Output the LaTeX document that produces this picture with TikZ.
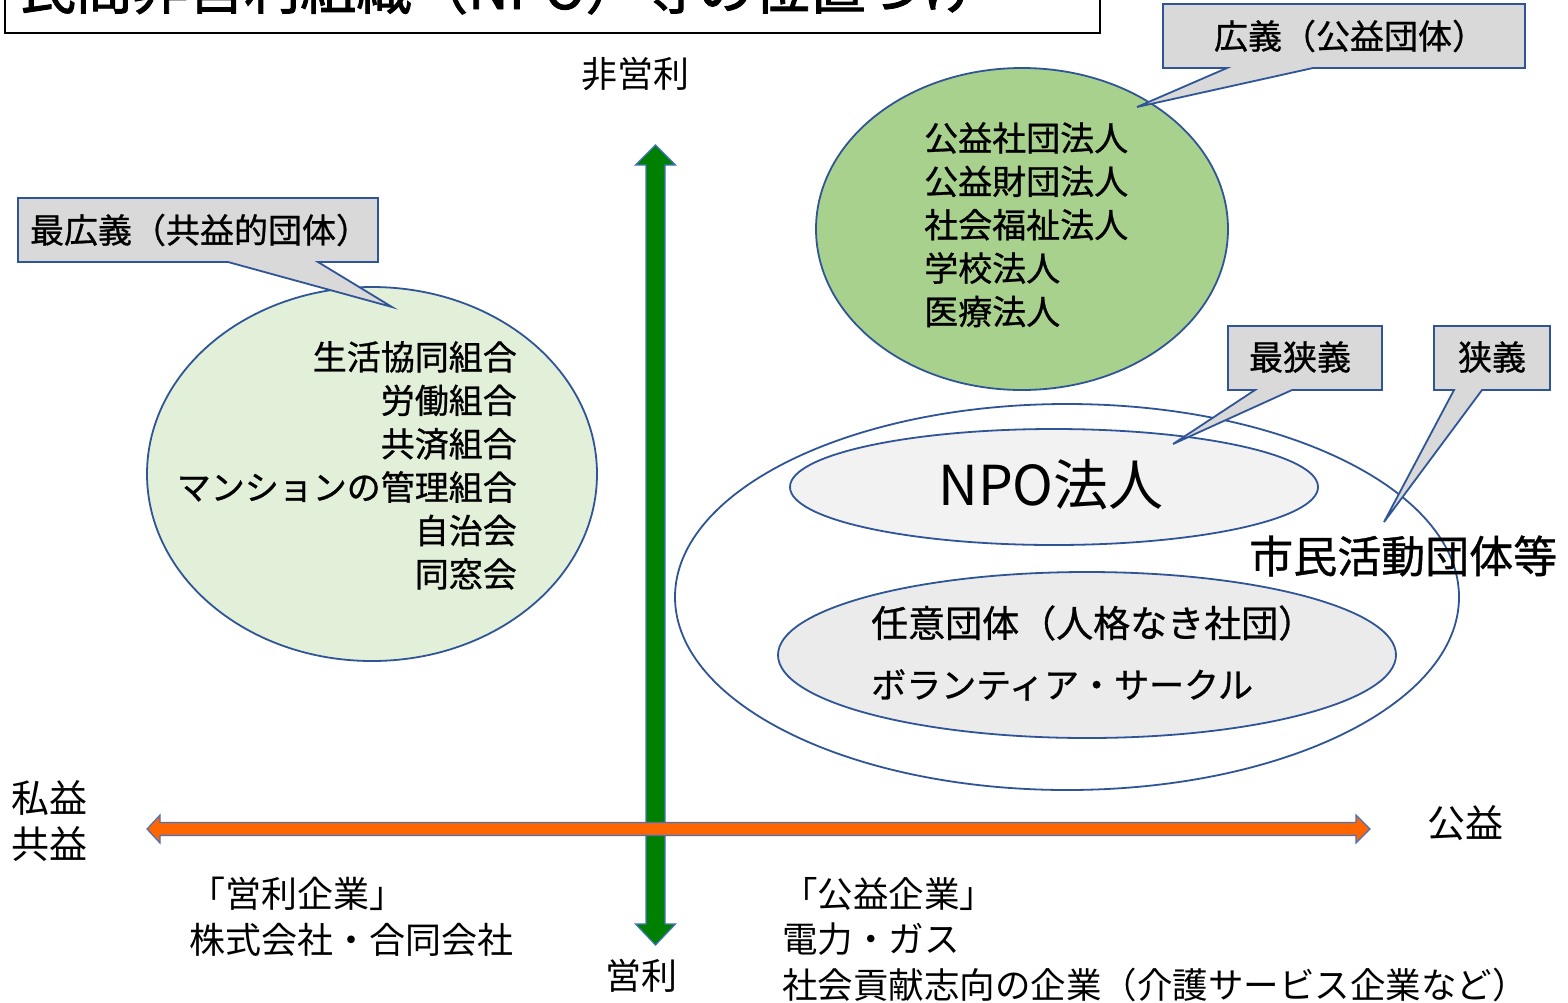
\documentclass[tikz,border=0pt]{standalone}
\usepackage{fontspec}
\setmainfont{Noto Sans CJK JP}
\newfontfamily\medjp{Noto Sans CJK JP}[FakeBold=0.8]
\newfontfamily\boldjp{Noto Sans CJK JP}[FakeBold=1.6]
\usetikzlibrary{shapes.geometric}
\definecolor{edgeblue}{HTML}{2F5597}
\definecolor{arrowline}{HTML}{4472C4}
\definecolor{lightgreen}{HTML}{E2F0D9}
\definecolor{midgreen}{HTML}{A9D18E}
\definecolor{npogray}{HTML}{F2F2F2}
\definecolor{ningray}{HTML}{EBEBEB}
\definecolor{callgray}{HTML}{D9D9D9}
\definecolor{arrgreen}{HTML}{008000}
\definecolor{arrorange}{HTML}{FF6600}
\tikzset{
  oval/.style={ellipse, draw=edgeblue, line width=1.8pt, inner sep=0pt},
  callout/.style={fill=callgray, draw=edgeblue, line width=1.8pt, line join=miter},
  blockarrow/.style={draw=arrowline, line width=1.2pt},
  thin text/.style={font=\fontsize{36}{46}\selectfont, inner sep=0pt},
  med text/.style={font=\medjp\fontsize{34}{43.4}\selectfont, inner sep=0pt},
}
\begin{document}
\begin{tikzpicture}[x=1pt,y=-1pt]
\useasboundingbox (0,0) rectangle (1568,1002);
\fill[white] (0,0) rectangle (1568,1002);
% title
\draw[line width=1.6pt, fill=white] (5,-60) rectangle (1100,33);
\node[anchor=base west, inner sep=0pt, font=\boldjp\fontsize{56}{60}\selectfont] (title) at (20,9) {民間非営利組織（NPO）等の位置づけ};
% ellipses
\node[oval, fill=lightgreen, minimum width=450pt, minimum height=374pt] (lefte) at (372,474) {};
\node[oval, fill=midgreen, minimum width=412pt, minimum height=322pt] (pube) at (1022,229) {};
\node[oval, fill=white, minimum width=784pt, minimum height=386pt] (civile) at (1067,597) {};
\node[oval, fill=npogray, minimum width=528pt, minimum height=116pt] (npoe) at (1054,487) {};
\node[oval, fill=ningray, minimum width=618pt, minimum height=166pt] (nine) at (1087,655) {};
% green vertical arrow
\filldraw[blockarrow, fill=arrgreen] (655.5,145) -- (675.5,165) -- (665,165) -- (665,924) -- (675.5,924) -- (655.5,945) -- (635.5,924) -- (646,924) -- (646,165) -- (635.5,165) -- cycle;
% orange horizontal arrow
\filldraw[blockarrow, fill=arrorange] (147,829) -- (160,815) -- (160,822.5) -- (1356,822.5) -- (1356,815) -- (1370,829) -- (1356,843) -- (1356,835.5) -- (160,835.5) -- (160,843) -- cycle;
% callouts
\draw[callout] (18,198) -- (378,198) -- (378,262) -- (318,262) -- (392,307) -- (228,262) -- (18,262) -- cycle;
\node[med text] (c1) at (200,230) {最広義（共益的団体）};
\draw[callout] (1163,4) -- (1525,4) -- (1525,68) -- (1313,68) -- (1137,107) -- (1227,68) -- (1163,68) -- cycle;
\node[med text] (c2) at (1350,36) {広義（公益団体）};
\draw[callout] (1228,326) -- (1382,326) -- (1382,390) -- (1292,390) -- (1173,444) -- (1255,390) -- (1228,390) -- cycle;
\node[med text] (c3) at (1300,357) {最狭義};
\draw[callout] (1434,326) -- (1550,326) -- (1550,390) -- (1482,390) -- (1384,522) -- (1454,390) -- (1434,390) -- cycle;
\node[med text] (c4) at (1492,357) {狭義};
% ellipse texts
\node[med text, align=right, anchor=north east] (lefttxt) at (517,341) {生活協同組合\\労働組合\\共済組合\\マンションの管理組合\\自治会\\同窓会};
\node[med text, align=left, anchor=north west] (pubtxt) at (924,122) {公益社団法人\\公益財団法人\\社会福祉法人\\学校法人\\医療法人};
\node[inner sep=0pt, font=\fontsize{55}{60}\selectfont] (npotxt) at (1051,485) {NPO法人};
\node[inner sep=0pt, font=\medjp\fontsize{44}{50}\selectfont, anchor=west] (civtxt) at (1249,556) {市民活動団体等};
\node[med text, font=\medjp\fontsize{37}{46}\selectfont, anchor=west] (nin1) at (871,623) {任意団体（人格なき社団）};
\node[med text, font=\medjp\fontsize{35}{46}\selectfont, anchor=west] (nin2) at (871,685) {ボランティア・サークル};
% axis labels
\node[thin text] (ax1) at (635,74) {非営利};
\node[thin text] (ax2) at (641,976) {営利};
\node[thin text, font=\fontsize{38}{46}\selectfont] (ax3) at (49,798) {私益};
\node[thin text, font=\fontsize{38}{46}\selectfont] (ax4) at (49,844) {共益};
\node[thin text, font=\fontsize{38}{46}\selectfont] (ax5) at (1465,823) {公益};
% bottom texts
\node[thin text, align=left, anchor=north west] (bl) at (189,877) {「営利企業」\\株式会社・合同会社};
\node[thin text, font=\fontsize{35.5}{45.5}\selectfont, align=left, anchor=north west] (br) at (782,877) {「公益企業」\\電力・ガス\\社会貢献志向の企業（介護サービス企業など）};
\end{tikzpicture}
\end{document}
